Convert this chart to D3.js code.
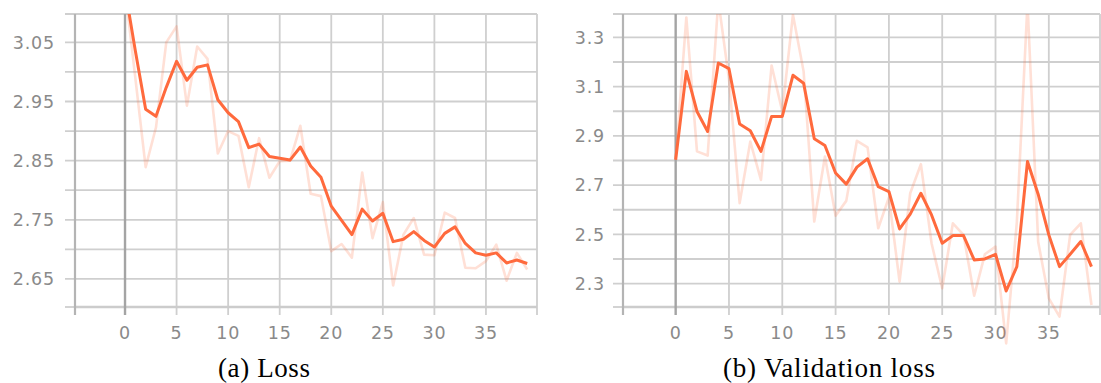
<!DOCTYPE html>
<html>
<head>
<meta charset="utf-8">
<script src="https://cdn.jsdelivr.net/npm/d3@7"></script>
<style>
  body { margin: 0; background: #fff; }
  svg { display: block; }
</style>
</head>
<body>
<div id="chart"></div>
<script>
// epochs 0..39
const epochs = d3.range(0, 40);

// (a) Loss
const lossSmooth = [3.14, 3.036, 2.937, 2.925, 2.974, 3.018, 2.986, 3.008, 3.012, 2.953,
  2.931, 2.916, 2.872, 2.878, 2.857, 2.854, 2.851, 2.873, 2.841, 2.822,
  2.773, 2.749, 2.725, 2.768, 2.748, 2.761, 2.713, 2.717, 2.730, 2.715,
  2.704, 2.727, 2.738, 2.710, 2.694, 2.690, 2.694, 2.677, 2.682, 2.676];
const lossRaw = [3.14, 2.99, 2.839, 2.906, 3.05, 3.077, 2.943, 3.043, 3.022, 2.862,
  2.90, 2.892, 2.805, 2.888, 2.821, 2.849, 2.85, 2.909, 2.794, 2.790,
  2.697, 2.709, 2.686, 2.830, 2.719, 2.780, 2.639, 2.725, 2.753, 2.691,
  2.690, 2.762, 2.753, 2.669, 2.668, 2.680, 2.708, 2.647, 2.694, 2.666];

// (b) Validation loss
const valSmooth = [2.803, 3.162, 2.999, 2.918, 3.196, 3.173, 2.948, 2.921, 2.837, 2.979,
  2.979, 3.146, 3.114, 2.888, 2.861, 2.749, 2.704, 2.773, 2.807, 2.694,
  2.674, 2.522, 2.582, 2.667, 2.579, 2.464, 2.495, 2.495, 2.396, 2.40,
  2.419, 2.270, 2.369, 2.796, 2.663, 2.498, 2.369, 2.419, 2.471, 2.369];
const valRaw = [2.803, 3.381, 2.837, 2.820, 3.45, 3.13, 2.627, 2.877, 2.721, 3.186,
  2.999, 3.392, 3.162, 2.552, 2.816, 2.576, 2.636, 2.880, 2.853, 2.525,
  2.650, 2.308, 2.667, 2.785, 2.464, 2.281, 2.545, 2.498, 2.251, 2.419,
  2.45, 2.057, 2.55, 3.44, 2.47, 2.24, 2.166, 2.498, 2.545, 2.213];

const xTickLabels = [0, 5, 10, 15, 20, 25, 30, 35];
const lossGrid = [2.65, 2.70, 2.75, 2.80, 2.85, 2.90, 2.95, 3.00, 3.05];
const lossLabels = [2.65, 2.75, 2.85, 2.95, 3.05];
const valGrid = [2.3, 2.4, 2.5, 2.6, 2.7, 2.8, 2.9, 3.0, 3.1, 3.2, 3.3];
const valLabels = [2.3, 2.5, 2.7, 2.9, 3.1, 3.3];

const W = 1101, H = 383;
const svg = d3.select("#chart").append("svg")
  .attr("width", W)
  .attr("height", H);

const panels = [
  { id: "a", caption: "(a) Loss", smooth: lossSmooth, raw: lossRaw,
    xDomain: [-4.85, 39.95], xRange: [75, 537],
    yDomain: [2.6025, 3.098], grid: lossGrid, labels: lossLabels, fmt: d3.format(".2f"),
    labelX: 55, captionX: 264, captionW: 92 },
  { id: "b", caption: "(b) Validation loss", smooth: valSmooth, raw: valRaw,
    xDomain: [-4.94, 39.8], xRange: [623, 1100],
    yDomain: [2.205, 3.395], grid: valGrid, labels: valLabels, fmt: d3.format(".1f"),
    labelX: 605, captionX: 829, captionW: 212 }
];

const plotTop = 14, plotBottom = 307;

panels.forEach(p => {
  const x = d3.scaleLinear().domain(p.xDomain).range(p.xRange);
  const y = d3.scaleLinear().domain(p.yDomain).range([plotBottom, plotTop]);
  const [x0, x1] = p.xRange;
  const g = svg.append("g");

  // horizontal grid + left ticks
  const hLines = [p.yDomain[1]].concat(p.grid);
  g.selectAll(".hgrid").data(hLines).enter().append("line")
    .attr("x1", x0 - 10).attr("x2", x1)
    .attr("y1", d => y(d)).attr("y2", d => y(d))
    .attr("stroke", "#cfcfcf").attr("stroke-width", 1.8);

  // vertical grid + bottom ticks
  const vLines = xTickLabels.slice(1).concat([p.xDomain[1]]);
  g.selectAll(".vgrid").data(vLines).enter().append("line")
    .attr("x1", d => x(d)).attr("x2", d => x(d))
    .attr("y1", plotTop).attr("y2", plotBottom + 8)
    .attr("stroke", "#cfcfcf").attr("stroke-width", 1.8);

  // bottom axis line
  g.append("line")
    .attr("x1", x0).attr("x2", x1)
    .attr("y1", plotBottom).attr("y2", plotBottom)
    .attr("stroke", "#cccccc").attr("stroke-width", 2.5);
  g.append("line")
    .attr("x1", x0 - 10).attr("x2", x0)
    .attr("y1", plotBottom).attr("y2", plotBottom)
    .attr("stroke", "#cfcfcf").attr("stroke-width", 1.8);

  // left axis line
  g.append("line")
    .attr("x1", x0).attr("x2", x0)
    .attr("y1", plotTop).attr("y2", plotBottom + 8)
    .attr("stroke", "#b4b4b4").attr("stroke-width", 2.2);

  // zero line
  g.append("line")
    .attr("x1", x(0)).attr("x2", x(0))
    .attr("y1", plotTop).attr("y2", plotBottom + 8)
    .attr("stroke", "#a4a4a4").attr("stroke-width", 2.4);

  // tick labels
  g.selectAll(".ylab").data(p.labels).enter().append("text")
    .attr("x", p.labelX).attr("y", d => y(d))
    .attr("dy", "0.36em")
    .attr("text-anchor", "end")
    .attr("font-family", "DejaVu Sans")
    .attr("font-size", 17.5)
    .attr("letter-spacing", 0.8)
    .attr("fill", "#8a8a8a")
    .text(d => p.fmt(d));

  g.selectAll(".xlab").data(xTickLabels).enter().append("text")
    .attr("x", d => x(d)).attr("y", 338.5)
    .attr("text-anchor", "middle")
    .attr("font-family", "DejaVu Sans")
    .attr("font-size", 17.5)
    .attr("letter-spacing", 0.8)
    .attr("fill", "#8a8a8a")
    .text(d => d);

  // clip only at the top; dips may run below the axis
  svg.append("clipPath").attr("id", "clip-" + p.id)
    .append("rect")
    .attr("x", x0).attr("y", plotTop)
    .attr("width", x1 - x0).attr("height", H - plotTop);

  const line = d3.line().x((d, i) => x(epochs[i])).y(d => y(d));
  const lines = g.append("g").attr("clip-path", "url(#clip-" + p.id + ")");
  lines.append("path")
    .attr("d", line(p.raw))
    .attr("fill", "none")
    .attr("stroke", "#ff7043").attr("stroke-opacity", 0.22)
    .attr("stroke-width", 2.6)
    .attr("stroke-linejoin", "round");
  lines.append("path")
    .attr("d", line(p.smooth))
    .attr("fill", "none")
    .attr("stroke", "#ff6a3d")
    .attr("stroke-width", 3)
    .attr("stroke-linejoin", "round");

  svg.append("text")
    .attr("x", p.captionX).attr("y", 377)
    .attr("text-anchor", "middle")
    .attr("font-family", "Liberation Serif")
    .attr("font-size", 27)
    .attr("textLength", p.captionW)
    .attr("fill", "#000")
    .text(p.caption);
});
</script>
</body>
</html>
